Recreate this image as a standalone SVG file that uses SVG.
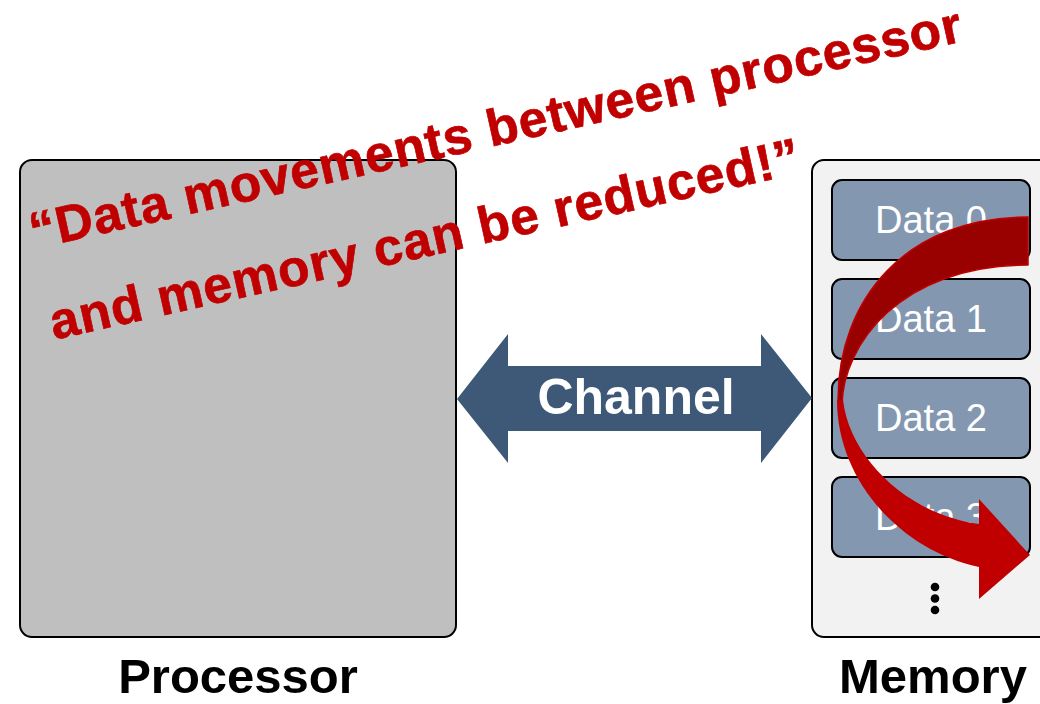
<svg xmlns="http://www.w3.org/2000/svg" width="1040" height="704" viewBox="0 0 1040 704">
  <style>
    .box { stroke: #000; stroke-width: 2; }
    .data rect { fill: #8497B0; stroke: #000; stroke-width: 2; }
    .data text { font-family: "Liberation Sans", Arial, sans-serif; font-size: 38px; fill: #fff; text-anchor: middle; }
    .label { font-family: "Liberation Sans", Arial, sans-serif; font-size: 49px; font-weight: bold; fill: #000; text-anchor: middle; }
    .note { font-family: "Liberation Sans", Arial, sans-serif; font-size: 51.5px; font-weight: bold; fill: #C00000; stroke: #C00000; stroke-width: 0.7px; letter-spacing: 1px; }
    .chan { font-family: "Liberation Sans", Arial, sans-serif; font-size: 50px; font-weight: bold; fill: #fff; text-anchor: middle; }
  </style>
  <rect width="1040" height="704" fill="#fff"/>

  <g id="processor">
    <rect class="box" x="20" y="160" width="436" height="477" rx="12" fill="#BFBFBF"/>
    <text class="label" x="238" y="693">Processor</text>
  </g>

  <g id="memory">
    <rect class="box" x="812" y="160" width="250" height="477" rx="12" fill="#F2F2F2"/>
    <circle cx="935" cy="587" r="4.3" fill="#000"/>
    <circle cx="935" cy="598.5" r="4.3" fill="#000"/>
    <circle cx="935" cy="610" r="4.3" fill="#000"/>
    <text class="label" x="933" y="693">Memory</text>
  </g>

  <g id="data0" class="data">
    <rect x="832" y="180" width="198" height="80" rx="10"/>
    <text x="931" y="233">Data 0</text>
  </g>
  <g id="data1" class="data">
    <rect x="832" y="279" width="198" height="80" rx="10"/>
    <text x="931" y="332">Data 1</text>
  </g>
  <g id="data2" class="data">
    <rect x="832" y="378" width="198" height="80" rx="10"/>
    <text x="931" y="431">Data 2</text>
  </g>
  <g id="data3" class="data">
    <rect x="832" y="477" width="198" height="80" rx="10"/>
    <text x="931" y="530">Data 3</text>
  </g>

  <g id="connectors">
    <g id="channel">
      <polygon points="457,399 508,334 508,366 761,366 761,334 812,398 761,463 761,431 508,431 508,463" fill="#3E5878"/>
      <text class="chan" x="636" y="414">Channel</text>
    </g>
    <g id="reduce-arrow">
      <path d="M1028,217 C905,217 838,300 838,400 L842,405 C843,345 900,265 1028,265 Z" fill="#990000" stroke="#C00000" stroke-width="1.5" stroke-linejoin="round"/>
      <path d="M837,400 C837,480 900,550 979,567 L979,599 L1030,555 L979,499 L979,524 C910,515 850,460 843,400 Z" fill="#C00000"/>
    </g>
  </g>

  <g id="note" transform="translate(33.7,249) rotate(-12.6)">
    <text class="note" x="0" y="0">“Data movements between processor</text>
    <text class="note" x="0" y="93">and memory can be reduced!”</text>
  </g>
</svg>
